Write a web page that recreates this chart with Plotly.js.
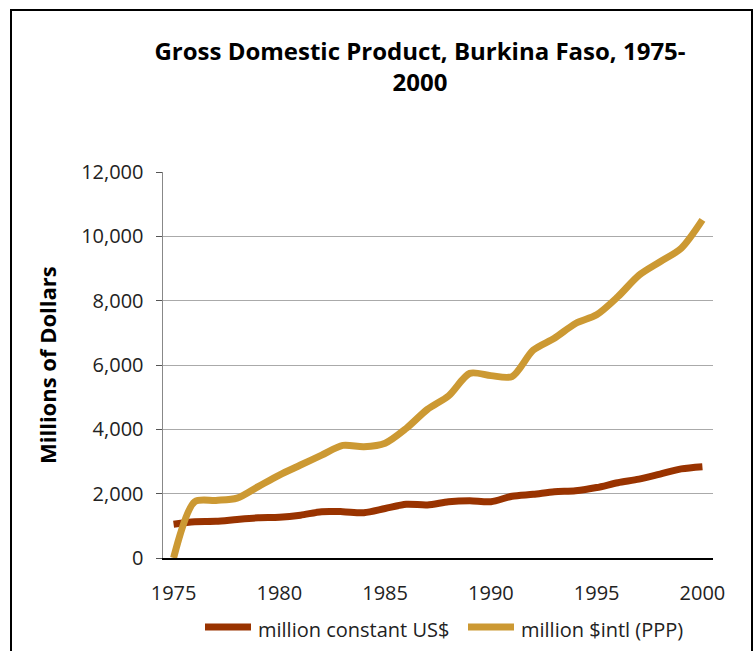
<!DOCTYPE html>
<html>
<head>
<meta charset="utf-8">
<script src="https://cdn.plot.ly/plotly-3.0.1.min.js"></script>
<style>
  html, body { margin: 0; padding: 0; background: #fff; }
  #chart { width: 755px; height: 651px; }
</style>
</head>
<body>
<div id="chart"></div>
<script>
const years = [1975,1976,1977,1978,1979,1980,1981,1982,1983,1984,1985,1986,1987,1988,1989,1990,1991,1992,1993,1994,1995,1996,1997,1998,1999,2000];
const constantUSD = [1050,1130,1140,1200,1250,1265,1330,1440,1440,1410,1540,1670,1650,1750,1780,1750,1920,1980,2060,2090,2190,2340,2450,2610,2770,2840];
const intlPPP = [0,1750,1790,1860,2220,2580,2890,3200,3500,3460,3570,4030,4620,5040,5740,5670,5640,6460,6830,7290,7560,8120,8790,9210,9630,10510];
const seriesNames = ['million constant US$', 'million $intl (PPP)'];
const seriesColors = ['#993300', '#CC9933'];
const xTicks = [1975, 1980, 1985, 1990, 1995, 2000];
const yTicks = [0, 2000, 4000, 6000, 8000, 10000, 12000];
const titleText = 'Gross Domestic Product, Burkina Faso, 1975-<br>2000';
const yTitle = 'Millions of Dollars';

const font = 'Open Sans, Noto Sans, sans-serif';

const traces = [
  {x: years, y: constantUSD, name: seriesNames[0], type: 'scatter', mode: 'lines',
   line: {color: seriesColors[0], width: 7, shape: 'spline', smoothing: 0.8}, showlegend: false},
  {x: years, y: intlPPP, name: seriesNames[1], type: 'scatter', mode: 'lines',
   line: {color: seriesColors[1], width: 7, shape: 'spline', smoothing: 0.8}, showlegend: false}
];

const L = 163, R = 713, T = 172, B = 558, W = 755, H = 651;
const px = v => (v - L) / (R - L);
const py = v => (B - v) / (B - T);

const layout = {
  width: W, height: H,
  margin: {l: L, r: W - R, t: T, b: H - B},
  paper_bgcolor: '#fff', plot_bgcolor: '#fff',
  font: {family: font, color: '#222', size: 20},
  title: {text: titleText, font: {family: font, size: 24, color: '#000', weight: 'bold'},
          xref: 'container', x: 420 / W, xanchor: 'center',
          yref: 'container', y: 1 - 60 / H, yanchor: 'middle'},
  xaxis: {type: 'linear', range: [1974.5, 2000.5], tickvals: xTicks, ticktext: xTicks.map(String),
          showgrid: false, zeroline: false, showline: true, linecolor: '#000', linewidth: 1.5,
          ticks: '', ticklabelstandoff: 16, tickfont: {size: 20, color: '#222'}},
  yaxis: {range: [0, 12000], tickvals: yTicks, tickformat: ',', showgrid: true, gridcolor: '#aaa',
          gridwidth: 1, zeroline: false, showline: true, linecolor: '#888', linewidth: 1.5,
          ticks: 'outside', ticklen: 6, tickcolor: '#555', ticklabelstandoff: 8,
          tickfont: {size: 20, color: '#222'}},
  shapes: [
    {type: 'rect', xref: 'paper', yref: 'paper', x0: px(11), x1: px(752), y0: py(10), y1: py(700),
     line: {color: '#000', width: 2}, fillcolor: 'rgba(0,0,0,0)', layer: 'below'},
    {type: 'line', xref: 'paper', yref: 'paper', x0: px(205), x1: px(251), y0: py(627), y1: py(627),
     line: {color: seriesColors[0], width: 7}},
    {type: 'line', xref: 'paper', yref: 'paper', x0: px(468), x1: px(514), y0: py(627), y1: py(627),
     line: {color: seriesColors[1], width: 7}}
  ],
  annotations: [
    {text: '<b>' + yTitle + '</b>', xref: 'paper', yref: 'paper', x: px(47), y: 0.5,
     textangle: -90, showarrow: false, font: {family: font, size: 22, color: '#000'},
     xanchor: 'center', yanchor: 'middle'},
    {text: seriesNames[0], xref: 'paper', yref: 'paper', x: px(256), y: py(629),
     xanchor: 'left', yanchor: 'middle', showarrow: false, font: {family: font, size: 20, color: '#222'}},
    {text: seriesNames[1], xref: 'paper', yref: 'paper', x: px(519), y: py(629),
     xanchor: 'left', yanchor: 'middle', showarrow: false, font: {family: font, size: 20, color: '#222'}}
  ]
};

Plotly.newPlot('chart', traces, layout, {displayModeBar: false, staticPlot: true});
</script>
</body>
</html>
